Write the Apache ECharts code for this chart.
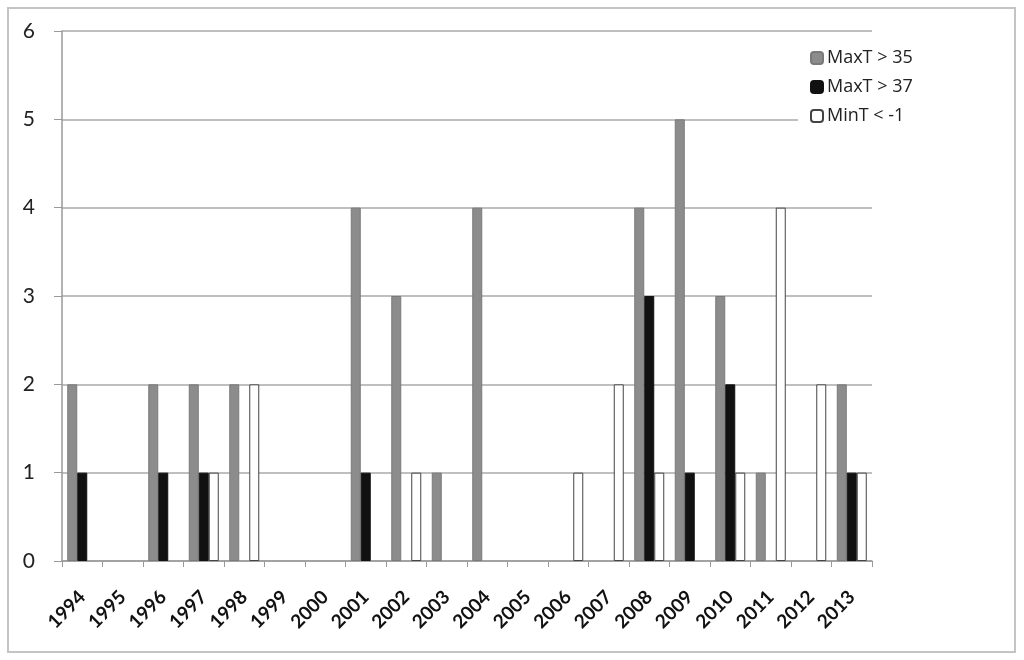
<!DOCTYPE html>
<html>
<head>
<meta charset="utf-8">
<script src="https://cdn.jsdelivr.net/npm/echarts@6/dist/echarts.min.js"></script>
<style>html,body{margin:0;padding:0;background:#fff}#c{width:1024px;height:660px}</style>
</head>
<body>
<div id="c"></div>
<script>
var years = ['1994','1995','1996','1997','1998','1999','2000','2001','2002','2003','2004','2005','2006','2007','2008','2009','2010','2011','2012','2013'];
var maxT35 = [2,0,2,2,2,0,0,4,3,1,4,0,0,0,4,5,3,1,0,2];
var maxT37 = [1,0,1,1,0,0,0,1,0,0,0,0,0,0,3,1,2,0,0,1];
var minTm1 = [0,0,0,1,2,0,0,0,1,0,0,0,1,2,1,0,1,4,2,1];
var yTicks = [0,1,2,3,4,5,6];

function noZero(arr) { return arr.map(function (v) { return v === 0 ? null : v; }); }

var font = 'Lato, "Open Sans", sans-serif';
var chart = echarts.init(document.getElementById('c'));
chart.setOption({
  animation: false,
  backgroundColor: '#fff',
  textStyle: {fontFamily: font},
  graphic: [{
    type: 'rect', shape: {x: 8, y: 8, width: 1007, height: 644},
    style: {fill: 'none', stroke: '#c4c4c4', lineWidth: 2}, z: 0, silent: true
  }],
  grid: {left: 62, right: 152, top: 31, bottom: 99},
  legend: {
    orient: 'vertical', left: 798, top: 42,
    backgroundColor: '#fff', padding: [7, 12, 20, 12],
    itemWidth: 12, itemHeight: 12, itemGap: 11,
    textStyle: {fontSize: 18, color: '#222', fontFamily: '"Open Sans", sans-serif', padding: [0, 0, 0, -1]},
    data: ['MaxT > 35', 'MaxT > 37', 'MinT < -1']
  },
  xAxis: {
    type: 'category', data: years,
    axisLine: {lineStyle: {color: '#999', width: 1.5}},
    axisTick: {show: true, length: 6, lineStyle: {color: '#999'}},
    axisLabel: {rotate: 45, fontSize: 19, fontWeight: 'bold', color: '#111', margin: 33, interval: 0, fontFamily: font}
  },
  yAxis: {
    type: 'value', min: 0, max: 6, interval: 1,
    axisLine: {show: true, lineStyle: {color: '#999', width: 1.5}},
    axisTick: {show: true, length: 8, lineStyle: {color: '#999'}},
    axisLabel: {fontSize: 21, color: '#222', margin: 27, fontFamily: font,
      formatter: function (v) { return yTicks.indexOf(v) >= 0 ? String(v) : ''; }},
    splitLine: {lineStyle: {color: '#aaa', width: 1.5}}
  },
  series: [
    {name: 'MaxT > 35', type: 'bar', data: noZero(maxT35), barWidth: 10, barGap: '0%',
     itemStyle: {color: '#8c8c8c', borderColor: '#7a7a7a', borderWidth: 1}},
    {name: 'MaxT > 37', type: 'bar', data: noZero(maxT37), barWidth: 10, barGap: '0%',
     itemStyle: {color: '#111', borderColor: '#111', borderWidth: 1}},
    {name: 'MinT < -1', type: 'bar', data: noZero(minTm1), barWidth: 10, barGap: '0%',
     itemStyle: {color: '#fff', borderColor: '#444', borderWidth: 1}}
  ]
});
</script>
</body>
</html>
